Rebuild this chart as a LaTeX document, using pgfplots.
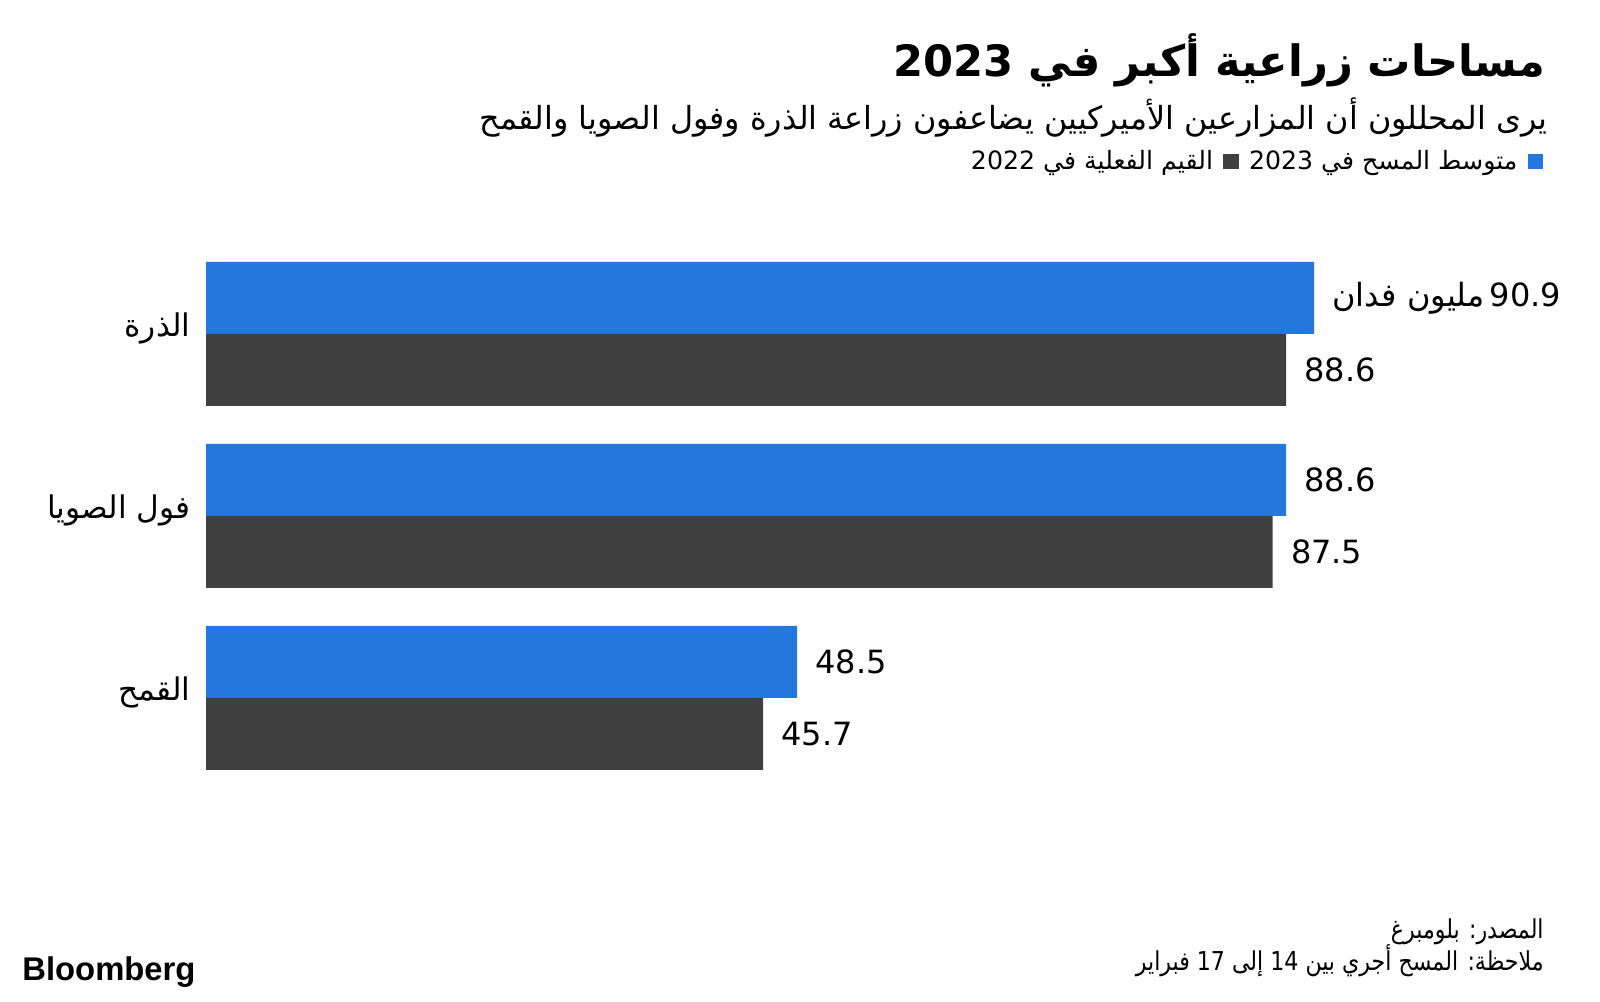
\documentclass[border=0pt]{standalone}
\usepackage{fontspec}
\setmainfont{DejaVu Sans}
\newfontfamily\arabicfont[Script=Arabic]{DejaVu Sans}
\newfontfamily\arabiccond[Script=Arabic,FakeStretch=0.85]{DejaVu Sans}
\newfontfamily\logofont{Liberation Sans}
\usepackage{pgfplots}
\pgfplotsset{compat=1.18}
\TeXXeTstate=1
\definecolor{barblue}{RGB}{36,119,220}
\definecolor{bargrey}{RGB}{64,64,64}
\protected\def\unitlbl{{\arabicfont\beginR مليون فدان\endR}\,}

\begin{document}
\begin{tikzpicture}
\path[fill=white,use as bounding box] (0,0) rectangle (800pt,500.5pt);
% title
\node[anchor=base east,inner sep=0pt] at (773pt,462pt) {\arabicfont\bfseries\fontsize{21.6}{26}\selectfont\beginR مساحات زراعية أكبر في \beginL2023\endL\endR};
% subtitle
\node[anchor=base east,inner sep=0pt] at (774pt,435.5pt) {\arabicfont\fontsize{15.9}{18}\selectfont\beginR يرى المحللون أن المزارعين الأميركيين يضاعفون زراعة الذرة وفول الصويا والقمح\endR};
% legend
\node[anchor=south east, fill=barblue, minimum size=7.6pt, inner sep=0pt, outer sep=0pt] (sq1) at (771.5pt,416pt) {};
\node[anchor=base east, inner sep=0pt] (t1) at ([xshift=-5pt]sq1.west |- 0,415.5pt) {\arabicfont\fontsize{12.6}{15}\selectfont\beginR متوسط المسح في \beginL2023\endL\endR};
\node[anchor=south east, fill=bargrey, minimum size=7.6pt, inner sep=0pt, outer sep=0pt] (sq2) at ([xshift=-5pt]t1.west |- 0,416pt) {};
\node[anchor=base east, inner sep=0pt] (t2) at ([xshift=-5pt]sq2.west |- 0,415.5pt) {\arabicfont\fontsize{12.6}{15}\selectfont\beginR القيم الفعلية في \beginL2022\endL\endR};
% footer
\node[anchor=base east,inner sep=0pt] at (772pt,31pt) {\arabiccond\fontsize{13}{15}\selectfont\beginR المصدر: بلومبرغ\endR};
\node[anchor=base east,inner sep=0pt] at (772pt,15.5pt) {\arabiccond\fontsize{13}{15}\selectfont\beginR ملاحظة: المسح أجري بين \beginL14\endL\ إلى \beginL17\endL\ فبراير\endR};
\node[anchor=base west,inner sep=0pt] at (11pt,10.5pt) {\logofont\bfseries\fontsize{16.4}{18}\selectfont Bloomberg};
\begin{axis}[
  at={(103pt,106pt)}, anchor=south west,
  scale only axis, width=609.5pt, height=273pt,
  xmin=0, xmax=100, ymin=-0.5, ymax=2.5,
  xbar, bar width=36pt,
  axis line style={draw=none},
  xtick=\empty, ytick={0,1,2},
  yticklabels={{\beginR القمح\endR},{\beginR فول الصويا\endR},{\beginR الذرة\endR}},
  major tick length=0pt, tick style={draw=none},
  yticklabel style={inner sep=0pt, xshift=-7.5pt, yshift=3pt, font=\arabicfont\fontsize{15.6}{18}\selectfont},
  clip=false,
  nodes near coords, point meta=explicit symbolic,
  nodes near coords style={anchor=west, inner sep=0pt, xshift=9pt, font=\fontsize{16}{19}\selectfont, text=black},
]
\addplot[fill=barblue, draw=none, bar shift=18pt] coordinates {(48.5,0) [48.5] (88.6,1) [88.6] (90.9,2) [\unitlbl 90.9]};
\addplot[fill=bargrey, draw=none, bar shift=-18pt] coordinates {(45.7,0) [45.7] (87.5,1) [87.5] (88.6,2) [88.6]};
\end{axis}
\end{tikzpicture}
\end{document}
